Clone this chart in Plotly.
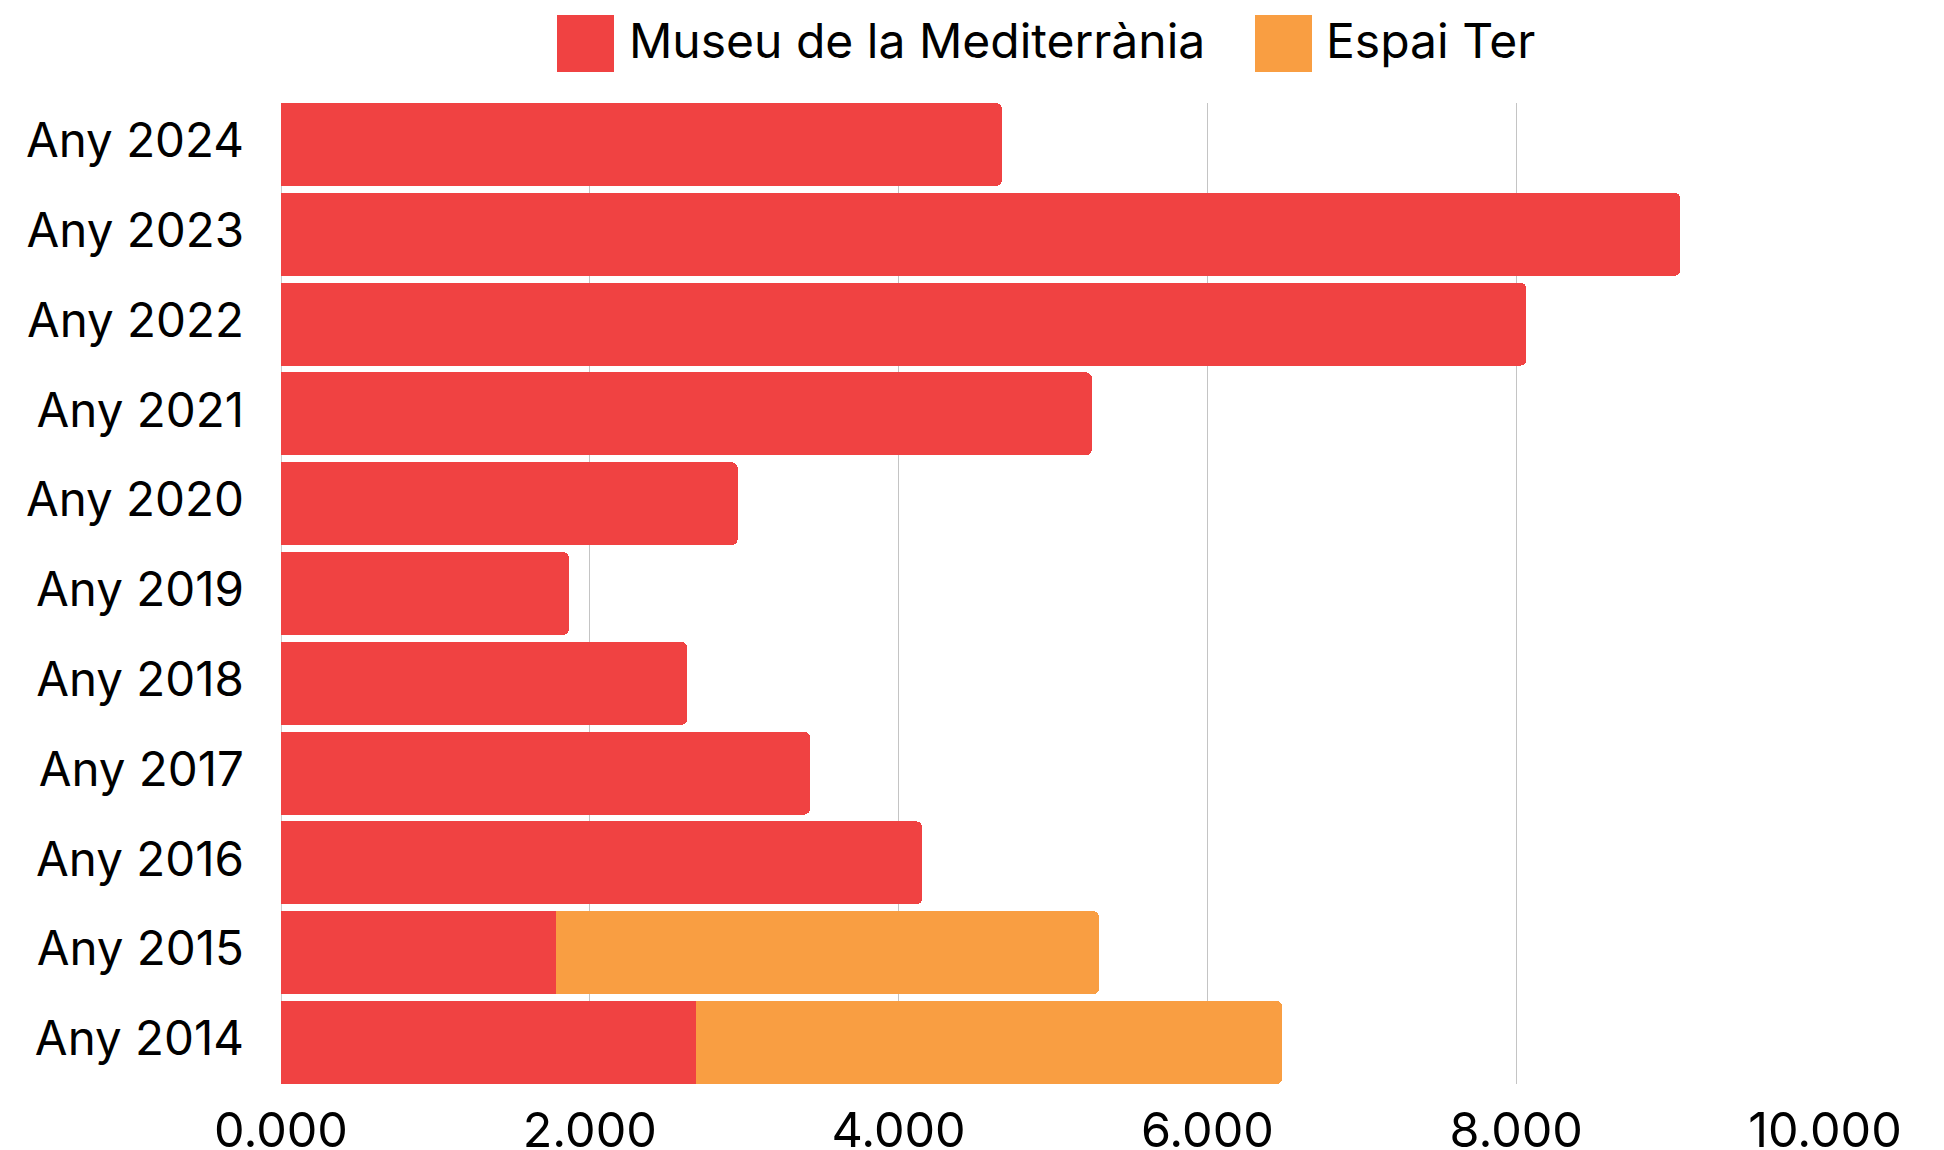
import plotly.graph_objects as go

# ---- data ----
categories = ["Any 2024", "Any 2023", "Any 2022", "Any 2021", "Any 2020", "Any 2019",
              "Any 2018", "Any 2017", "Any 2016", "Any 2015", "Any 2014"]
museu_values = [4670, 9064, 8066, 5252, 2958, 1865, 2631, 3427, 4153, 1783, 2685]
espai_values = [None, None, None, None, None, None, None, None, None, 3515, 3800]
series_names = ["Museu de la Mediterrània", "Espai Ter"]
x_tick_values = [0, 2000, 4000, 6000, 8000, 10000]
x_tick_labels = ["0.000", "2.000", "4.000", "6.000", "8.000", "10.000"]

# ---- style ----
RED = "#F04242"
ORANGE = "#F99E42"
FONT = "Inter"
W, H = 1944, 1150
ML, MR, MT, MB = 281, 119, 103, 66
PW, PH = W - ML - MR, H - MT - MB


def xp(px):
    return (px - ML) / PW


def yp(py):
    return (H - MB - py) / PH


fig = go.Figure()
fig.add_trace(go.Bar(y=categories, x=museu_values, orientation="h", name=series_names[0],
                     marker=dict(color=RED, line=dict(width=0)), showlegend=False))
fig.add_trace(go.Bar(y=categories, x=espai_values, orientation="h", name=series_names[1],
                     marker=dict(color=ORANGE, line=dict(width=0)), showlegend=False))

gap = 0.075
n = len(categories)
fig.update_layout(
    width=W, height=H,
    margin=dict(l=ML, r=MR, t=MT, b=MB, autoexpand=False),
    barmode="stack", bargap=gap, barcornerradius=6,
    plot_bgcolor="white", paper_bgcolor="white",
    font=dict(family=FONT, size=48, color="black"),
    xaxis=dict(range=[0, 10000], tickvals=x_tick_values, ticktext=x_tick_labels,
               showgrid=True, gridcolor="#c4c4c4", gridwidth=1, zeroline=False,
               showline=False, ticks="", ticklabelstandoff=13,
               tickfont=dict(family=FONT, size=48.5, color="black")),
    yaxis=dict(categoryorder="array", categoryarray=categories,
               range=[n - 0.5 - gap / 2, -0.5 + gap / 2],
               showgrid=False, zeroline=False, showline=False, ticks="",
               ticklabelstandoff=36, ticklabelshift=4,
               tickfont=dict(family=FONT, size=47.5, color="black")),
    showlegend=False,
)

# axis line at x = 0
fig.add_shape(type="line", xref="x", yref="paper", x0=0, x1=0, y0=0, y1=1,
              line=dict(color="#999999", width=1), layer="below")

# custom legend (large square swatches)
legend_items = [(557, 627, RED, series_names[0]), (1255, 1324, ORANGE, series_names[1])]
for sq_x, tx, col, name in legend_items:
    fig.add_shape(type="rect", xref="paper", yref="paper",
                  x0=xp(sq_x), x1=xp(sq_x + 57), y0=yp(72), y1=yp(15),
                  fillcolor=col, line=dict(width=0))
    fig.add_annotation(xref="paper", yref="paper", x=xp(tx), y=yp(41),
                       xanchor="left", yanchor="middle", showarrow=False,
                       text=name, font=dict(family=FONT, size=48, color="black"))

fig.write_html("out.html", config={"displayModeBar": False},
               post_script="document.body.style.margin='0';")
